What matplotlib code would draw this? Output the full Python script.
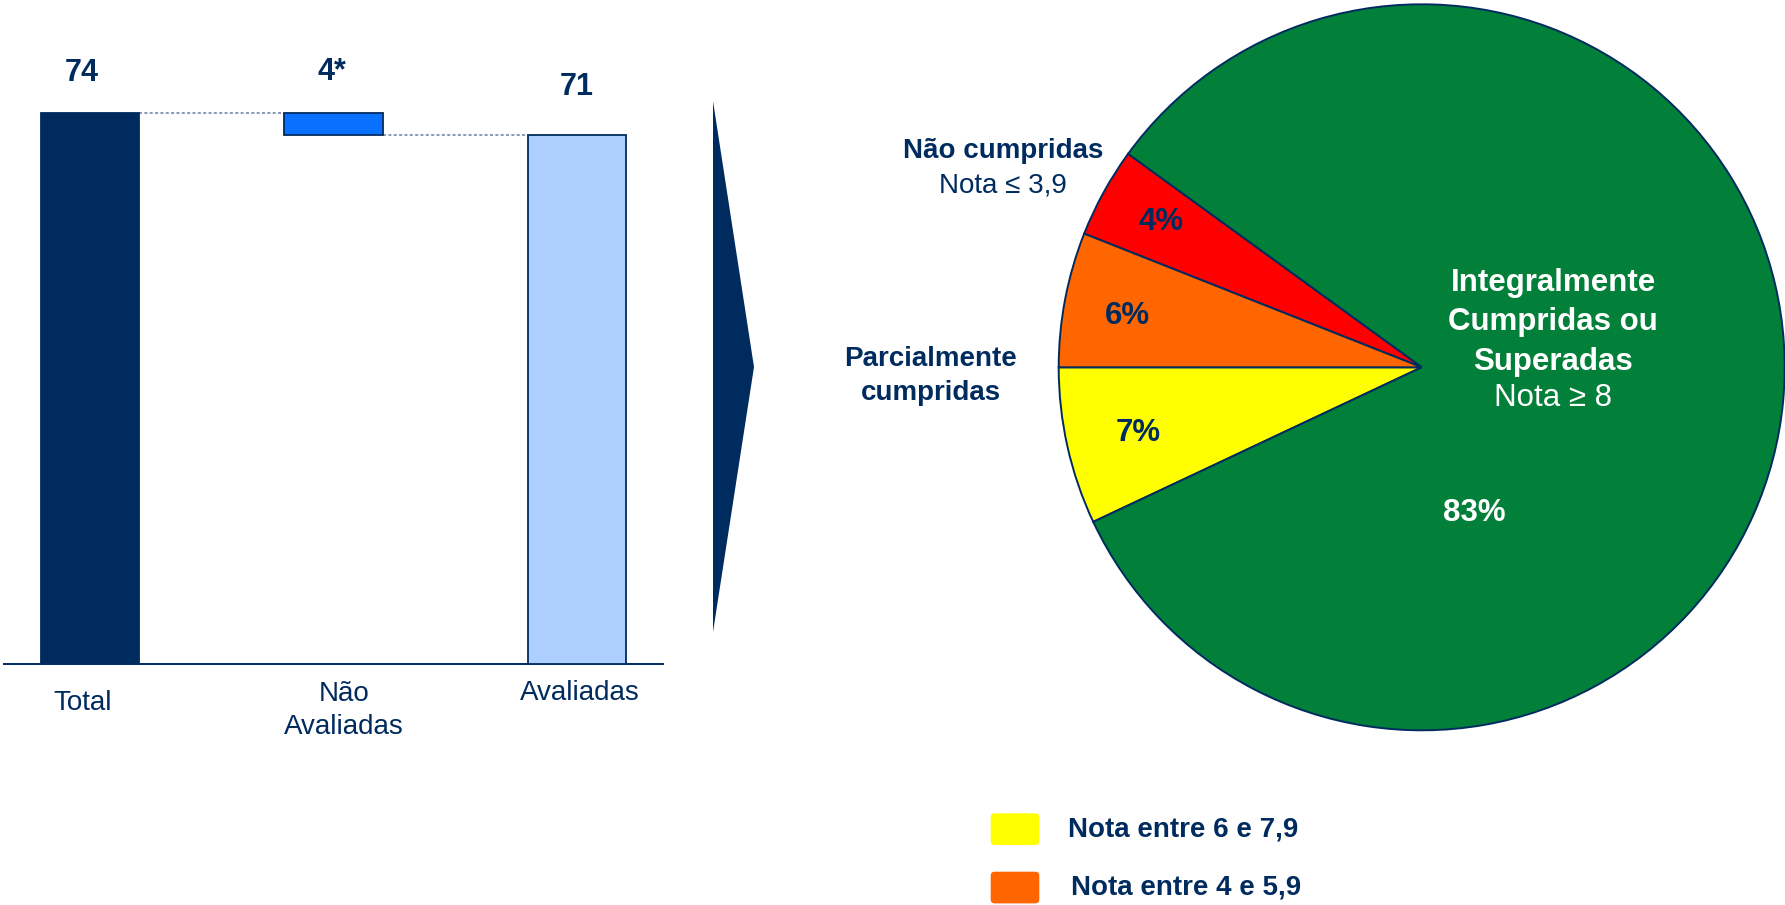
import matplotlib
matplotlib.use("Agg")
import matplotlib.pyplot as plt
from matplotlib.patches import FancyBboxPatch, Polygon

plt.rcParams['font.family'] = ['Liberation Sans', 'DejaVu Sans']

# ---------------- data ----------------
categories = ["Total", "Não\nAvaliadas", "Avaliadas"]
total_value = 74
avaliadas_value = 71
bar_labels = ["74", "4*", "71"]

pie_labels = ["Parcialmente cumpridas", "Integralmente Cumpridas ou Superadas",
              "Não cumpridas", "Nota entre 4 e 5,9"]
pie_values = [7, 83, 4, 6]
pie_colors = ["#FFFF00", "#02803A", "#FF0000", "#FF6600"]

legend_labels = ["Nota entre 6 e 7,9", "Nota entre 4 e 5,9"]
legend_colors = ["#FFFF00", "#FF6600"]

# ---------------- style ----------------
NAVY = "#002B5F"
W, H = 1785, 905
fig = plt.figure(figsize=(W / 100, H / 100), dpi=100)
fig.patch.set_facecolor("white")

def fx(px):
    return px / W

def fy(py):
    return 1 - py / H

# ---------------- waterfall bars ----------------
axis_y = 663.5
ax = fig.add_axes([fx(3.6), fy(axis_y), fx(663 - 3.6), axis_y / H])
ax.set_xlim(-0.355, 2.353)
ax.set_ylim(0, axis_y / 7.443)
ax.patch.set_alpha(0)
for s in ["top", "right", "left"]:
    ax.spines[s].set_visible(False)
ax.spines["bottom"].set_color(NAVY)
ax.spines["bottom"].set_linewidth(1.4)
ax.set_xticks([])
ax.set_yticks([])

bw = 0.405
bottoms = [0, avaliadas_value, 0]
heights = [total_value, total_value - avaliadas_value, avaliadas_value]
faces = [NAVY, "#0A70FF", "#ADD0FF"]
edges = [NAVY, NAVY, NAVY]
ax.bar(range(3), heights, bottom=bottoms, width=bw, color=faces,
       edgecolor=edges, linewidth=1.3, zorder=3)

# connectors
ax.plot([0 + bw / 2, 1 - bw / 2], [total_value, total_value], color="#6A7FA3",
        lw=1.1, ls=(0, (2, 1.5)), zorder=2)
ax.plot([1 + bw / 2, 2 - bw / 2], [avaliadas_value, avaliadas_value], color="#6A7FA3",
        lw=1.1, ls=(0, (2, 1.5)), zorder=2)

# value labels
label_y = [total_value + 5.3, total_value + 5.5, avaliadas_value + 6.5]
label_dx = [-0.034, -0.006, -0.001]
for i, (t, y) in enumerate(zip(bar_labels, label_y)):
    ax.text(i + label_dx[i], y, t, ha="center", va="center", fontsize=22,
            fontweight="bold", color=NAVY)

# ---------------- pie ----------------
cx, cy, r = 1421.7, 367.3, 363.0
axp = fig.add_axes([fx(cx - r), fy(cy + r), fx(2 * r), 2 * r / H])
axp.pie(pie_values, colors=pie_colors, startangle=180, counterclock=True,
        radius=1.0, wedgeprops=dict(edgecolor=NAVY, linewidth=1.4))
axp.set_xlim(-1.0, 1.0)
axp.set_ylim(-1.0, 1.0)
axp.set_aspect("auto")
axp.axis("off")

# percentage labels
pct_pos = [(-0.781, -0.180), (0.144, -0.402), (-0.719, 0.401), (-0.811, 0.141)]
pct_col = [NAVY, "white", NAVY, NAVY]
for v, (px, py), c in zip(pie_values, pct_pos, pct_col):
    axp.text(px, py, f"{v}%", ha="center", va="center", fontsize=22.5,
             fontweight="bold", color=c)

# ---------------- overlay (texts, chevron, legend) ----------------
ov = fig.add_axes([0, 0, 1, 1])
ov.set_xlim(0, W)
ov.set_ylim(H, 0)
ov.axis("off")
ov.patch.set_alpha(0)

# category labels
cat_pos = [(82.5, 703.3), (343.8, 710.3), (580, 693.3)]
for lab, (x, y) in zip(categories, cat_pos):
    ov.text(x, y, lab, ha="center", va="center", fontsize=20, color=NAVY,
            linespacing=1.37)

# chevron
ov.add_patch(Polygon([(713, 101), (754, 367), (713, 632)], closed=True,
                     facecolor=NAVY, edgecolor="none"))

# pie annotations
ov.text(1003, 151.5, "Não cumpridas", ha="center", va="center", fontsize=20,
        fontweight="bold", color=NAVY)
ov.text(1003, 185, "Nota ≤ 3,9", ha="center", va="center", fontsize=20, color=NAVY)
ov.text(931, 358.6, "Parcialmente", ha="center", va="center", fontsize=20,
        fontweight="bold", color=NAVY)
ov.text(931, 392.7, "cumpridas", ha="center", va="center", fontsize=20,
        fontweight="bold", color=NAVY)
for t, y in zip(["Integralmente", "Cumpridas ou", "Superadas"], [283.3, 321.7, 361.7]):
    ov.text(1553.3, y, t, ha="center", va="center", fontsize=22.5,
            fontweight="bold", color="white")
ov.text(1553.3, 398.3, "Nota ≥ 8", ha="center", va="center", fontsize=22.5,
        color="white")

# legend
leg_y = [813.3, 871.7]
leg_tx = [1068, 1070.7]
for lab, col, y, tx in zip(legend_labels, legend_colors, leg_y, leg_tx):
    ov.add_patch(FancyBboxPatch((990.7 + 4, y + 4), 48.6 - 8, 31.7 - 8,
                                boxstyle="round,pad=4", facecolor=col,
                                edgecolor="none"))
    ov.text(tx, y + 16, lab, ha="left", va="center", fontsize=20,
            fontweight="bold", color=NAVY)

fig.savefig("out.png", dpi=100)
